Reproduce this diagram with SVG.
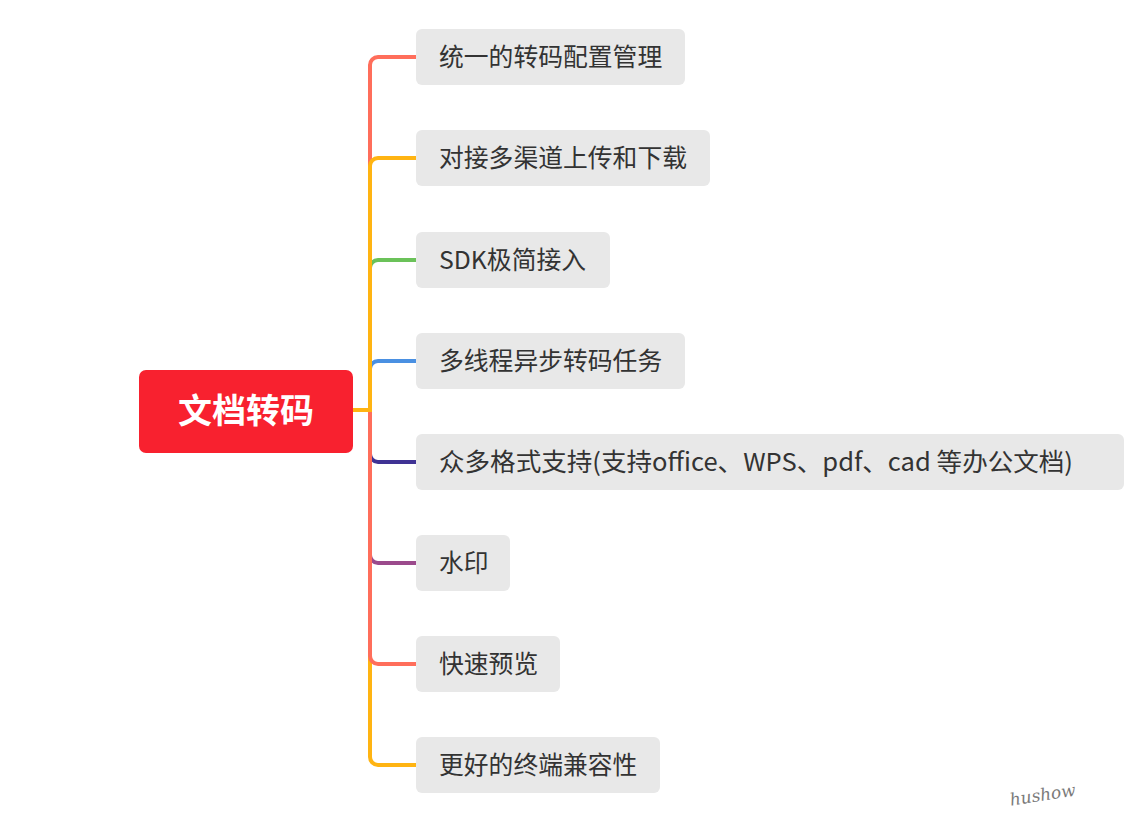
<svg xmlns="http://www.w3.org/2000/svg" width="1138" height="813" viewBox="0 0 1138 813">
<style>
.box{fill:#E8E8E8;}
.t{font-family:"Noto Sans CJK SC","Noto Sans",sans-serif;font-size:24.8px;fill:#333333;}
.c{fill:none;stroke-width:4;stroke-linecap:butt;}
.root{fill:#F8212F;}
.rt{font-family:"Noto Sans CJK SC","Noto Sans",sans-serif;font-size:34px;font-weight:bold;fill:#FFFFFF;}
</style>
<rect width="1138" height="813" fill="#FFFFFF"/>
<g id="connectors">
<path class="c" stroke="#6BC259" d="M370 410 V268 A8 8 0 0 1 378 260 H416"/>
<path class="c" stroke="#4A90E2" d="M370 410 V369 A8 8 0 0 1 378 361 H416"/>
<path class="c" stroke="#3F3294" d="M370 410 V454 A8 8 0 0 0 378 462 H416"/>
<path class="c" stroke="#9B4A8C" d="M370 410 V555 A8 8 0 0 0 378 563 H416"/>
<path class="c" stroke="#FF6E5B" d="M370 410 V65 A8 8 0 0 1 378 57 H416"/>
<path class="c" stroke="#FFB412" d="M370 410 V166 A8 8 0 0 1 378 158 H416"/>
<path class="c" stroke="#FFB412" d="M370 410 V757 A8 8 0 0 0 378 765 H416"/>
<path class="c" stroke="#FF6E5B" d="M370 410 V656 A8 8 0 0 0 378 664 H416"/>
<path class="c" stroke="#FFB412" d="M353 410 H372"/>
</g>
<g id="root">
<rect class="root" x="139" y="370" width="214" height="83" rx="7"/>
<text class="rt" x="246" y="423" text-anchor="middle">文档转码</text>
</g>
<g id="n1">
<rect class="box" x="416" y="29" width="269" height="56" rx="6"/>
<text class="t" x="439" y="66">统一的转码配置管理</text>
</g>
<g id="n2">
<rect class="box" x="416" y="130" width="294" height="56" rx="6"/>
<text class="t" x="439" y="167">对接多渠道上传和下载</text>
</g>
<g id="n3">
<rect class="box" x="416" y="232" width="194" height="56" rx="6"/>
<text class="t" x="439" y="269">SDK极简接入</text>
</g>
<g id="n4">
<rect class="box" x="416" y="333" width="269" height="56" rx="6"/>
<text class="t" x="439" y="370">多线程异步转码任务</text>
</g>
<g id="n5">
<rect class="box" x="416" y="434" width="708" height="56" rx="6"/>
<text class="t" x="439" y="471" textLength="634" lengthAdjust="spacingAndGlyphs">众多格式支持(支持office、WPS、pdf、cad 等办公文档)</text>
</g>
<g id="n6">
<rect class="box" x="416" y="535" width="94" height="56" rx="6"/>
<text class="t" x="439" y="572">水印</text>
</g>
<g id="n7">
<rect class="box" x="416" y="636" width="144" height="56" rx="6"/>
<text class="t" x="439" y="673">快速预览</text>
</g>
<g id="n8">
<rect class="box" x="416" y="737" width="244" height="56" rx="6"/>
<text class="t" x="439" y="774">更好的终端兼容性</text>
</g>
<g id="watermark">
<text x="1009" y="801" transform="rotate(-9 1040 792)" font-family="DejaVu Serif" font-style="italic" font-size="17" fill="#7A7A7A">hushow</text>
</g>
</svg>
